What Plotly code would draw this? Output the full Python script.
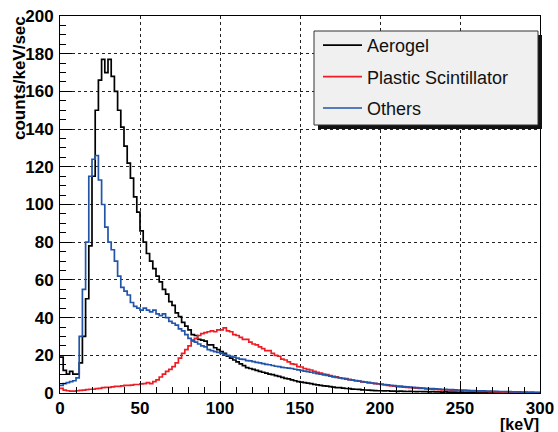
import numpy as np
import plotly.graph_objects as go

# 2 keV bins from 0 to 300 keV (150 bins)
BIN_WIDTH = 2
aerogel = [
    19, 12, 10, 11.5, 10, 10, 16, 30, 50, 78,
    115, 150, 166, 177, 170, 177, 168, 160, 150, 141,
    131, 122, 114, 104, 96, 86, 80, 74, 70, 66,
    62, 59, 55, 52.5, 48.5, 46.5, 42.5, 40.5, 37.5, 35.5,
    33.5, 31, 30.5, 28.5, 28, 27.5, 25.5, 25.5, 24, 23,
    22, 21, 19.5, 18.5, 17.5, 16.5, 15.5, 14.5, 13.5, 13,
    12.5, 12, 11.5, 11, 10.5, 10, 9.8, 9.2, 8.8, 8.3,
    7.8, 7.5, 7, 6.5, 6, 5.8, 5.5, 5.2, 5, 4.6,
    4.3, 4, 3.8, 3.6, 3.4, 3.1, 2.9, 2.8, 2.6, 2.4,
    2.3, 2.1, 2.0, 1.9, 1.7, 1.6, 1.5, 1.4, 1.3, 1.2,
    1.2, 1.1, 1.2, 1.0, 1.0, 0.9, 1.0, 0.9, 0.8, 0.9,
    0.8, 0.7, 0.8, 0.7, 0.7, 0.6, 0.7, 0.6, 0.6, 0.5,
    0.6, 0.5, 0.5, 0.5, 0.4, 0.5, 0.4, 0.4, 0.4, 0.3,
    0.4, 0.3, 0.3, 0.3, 0.3, 0.2, 0.3, 0.2, 0.3, 0.2,
    0.2, 0.2, 0.2, 0.2, 0.1, 0.2, 0.1, 0.2, 0.1, 0.1,
]
plastic = [
    2.5, 1.5, 1.2, 1.0, 1.0, 1.2, 1.4, 1.5, 1.8, 2.0,
    2.0, 2.3, 2.5, 2.8, 3.0, 3.0, 3.3, 3.5, 3.5, 3.8,
    4.0, 4.0, 4.2, 4.5, 4.5, 4.8, 5.0, 5.5, 5.0, 6.0,
    7.0, 8.5, 10, 11.5, 12.5, 14, 16, 18.5, 21, 23,
    25, 27.5, 29, 30.5, 31.5, 32, 32.5, 33, 32.5, 33.5,
    33.5, 34.5, 33, 32.5, 31, 30.5, 29.5, 28.5, 28.5, 27,
    26, 25.5, 24.5, 23.5, 22.5, 22.5, 21, 20, 19.5, 18,
    17.5, 16.5, 15.5, 15.2, 14, 13.8, 13, 12.5, 12.2, 11.5,
    11, 10.6, 10, 9.8, 9.2, 8.8, 8.6, 8.1, 7.8, 7.6,
    7.1, 6.9, 6.5, 6.3, 5.9, 5.7, 5.4, 5.3, 5.0, 4.8,
    4.5, 4.3, 4.0, 3.8, 3.6, 3.4, 3.3, 3.1, 3.0, 2.8,
    2.7, 2.6, 2.5, 2.4, 2.2, 2.1, 2.0, 1.9, 1.8, 1.7,
    1.6, 1.6, 1.5, 1.4, 1.3, 1.3, 1.2, 1.1, 1.0, 1.0,
    0.9, 0.9, 0.8, 0.8, 0.7, 0.7, 0.6, 0.6, 0.5, 0.5,
    0.5, 0.4, 0.4, 0.4, 0.3, 0.3, 0.3, 0.3, 0.2, 0.2,
]
others = [
    4, 5, 5.5, 6, 6.5, 8, 30, 55, 80, 115,
    124, 126, 113, 100, 88, 80, 76, 70, 62, 56,
    54, 52, 48, 46, 45, 44, 45, 44, 43, 44,
    42, 41, 42, 40, 38, 37, 36, 34, 33, 31,
    29, 28, 27, 26, 25, 24.5, 23, 22.5, 22, 21.5,
    21, 20.5, 20, 19.5, 19, 18.5, 18, 17.8, 17.2, 17,
    16.6, 16.2, 16, 15.6, 15.2, 15, 14.6, 14.2, 14, 13.6,
    13.4, 13.2, 13, 12.6, 12.3, 12, 11.6, 11.3, 11, 10.6,
    10.3, 10, 9.6, 9.3, 9, 8.6, 8.3, 8, 7.7, 7.4,
    7.1, 6.8, 6.6, 6.3, 6, 5.8, 5.6, 5.3, 5.1, 4.9,
    4.7, 4.5, 4.3, 4.1, 3.9, 3.7, 3.6, 3.4, 3.3, 3.1,
    3.0, 2.9, 2.7, 2.6, 2.5, 2.4, 2.3, 2.2, 2.1, 2.0,
    1.9, 1.8, 1.8, 1.7, 1.6, 1.5, 1.5, 1.4, 1.3, 1.3,
    1.2, 1.1, 1.1, 1.0, 1.0, 0.9, 0.9, 0.8, 0.8, 0.7,
    0.7, 0.6, 0.6, 0.6, 0.5, 0.5, 0.4, 0.4, 0.4, 0.3,
]
series_names = ["Aerogel", "Plastic Scintillator", "Others"]
series_colors = ["#000000", "#ee1c24", "#2255aa"]
x_ticks = [0, 50, 100, 150, 200, 250, 300]
y_ticks = [0, 20, 40, 60, 80, 100, 120, 140, 160, 180, 200]

edges = np.arange(0, 300 + BIN_WIDTH, BIN_WIDTH)

fig = go.Figure()
for i, (name, vals, col) in enumerate(zip(series_names, [aerogel, plastic, others], series_colors)):
    y = list(vals) + [vals[-1]]
    fig.add_trace(go.Scatter(
        x=edges, y=y, mode="lines", line=dict(shape="hv", color=col, width=1.7),
        name=name, legendgroup=f"g{i}",
    ))

FONT = "Liberation Sans, Arial, Helvetica, sans-serif"
axis_common = dict(
    showline=True, linecolor="black", linewidth=1, mirror=True,
    ticks="inside", ticklen=12, tickwidth=1, tickcolor="black",
    showgrid=True, gridcolor="#222222", griddash="dot", gridwidth=1,
    zeroline=False, automargin=False,
    tickfont=dict(family=FONT, size=17, color="black", weight="bold"),
)
fig.update_xaxes(range=[0, 300], tickvals=x_ticks, ticktext=[str(v) for v in x_ticks],
                 minor=dict(dtick=10, ticks="inside", ticklen=6, tickcolor="black", showgrid=False),
                 ticklabelstandoff=0,
                 **axis_common)
fig.update_yaxes(range=[0, 200], tickvals=y_ticks, ticktext=[str(v) for v in y_ticks],
                 minor=dict(dtick=5, ticks="inside", ticklen=6, tickcolor="black", showgrid=False),
                 ticklabelstandoff=2,
                 **axis_common)

# legend box with shadow
L, R, T, B = 314, 538, 31, 125
W, H = 558, 432
def px(xp):
    return (xp - 60) / 480.0
def py(yp):
    return (393 - yp) / 377.0
fig.add_shape(type="rect", xref="paper", yref="paper", x0=px(L + 4), x1=px(R + 4), y0=py(B + 4), y1=py(T + 4),
              fillcolor="#111111", line=dict(width=0), layer="above")
fig.add_shape(type="rect", xref="paper", yref="paper", x0=px(L), x1=px(R), y0=py(B), y1=py(T),
              fillcolor="#f0f0f0", line=dict(color="#333333", width=1), layer="above")

fig.update_layout(
    width=W, height=H,
    margin=dict(l=60, r=18, t=16, b=39),
    paper_bgcolor="white", plot_bgcolor="white",
    font=dict(family=FONT, color="black"),
    legend=dict(x=px(318), y=py(27), xanchor="left", yanchor="top",
                bgcolor="rgba(0,0,0,0)", borderwidth=0,
                font=dict(family=FONT, size=18, color="#111111"),
                tracegroupgap=5, itemwidth=39),
    annotations=[
        dict(text="[keV]", xref="paper", yref="paper", x=px(541), y=py(424), xanchor="right", yanchor="middle",
             showarrow=False, font=dict(family=FONT, size=16, color="black", weight="bold")),
        dict(text="counts/keV/sec", xref="paper", yref="paper", x=px(20), y=py(14), xanchor="center", yanchor="top",
             textangle=-90, showarrow=False, font=dict(family=FONT, size=17, color="black", weight="bold")),
    ],
)
fig.write_html("out.html")
